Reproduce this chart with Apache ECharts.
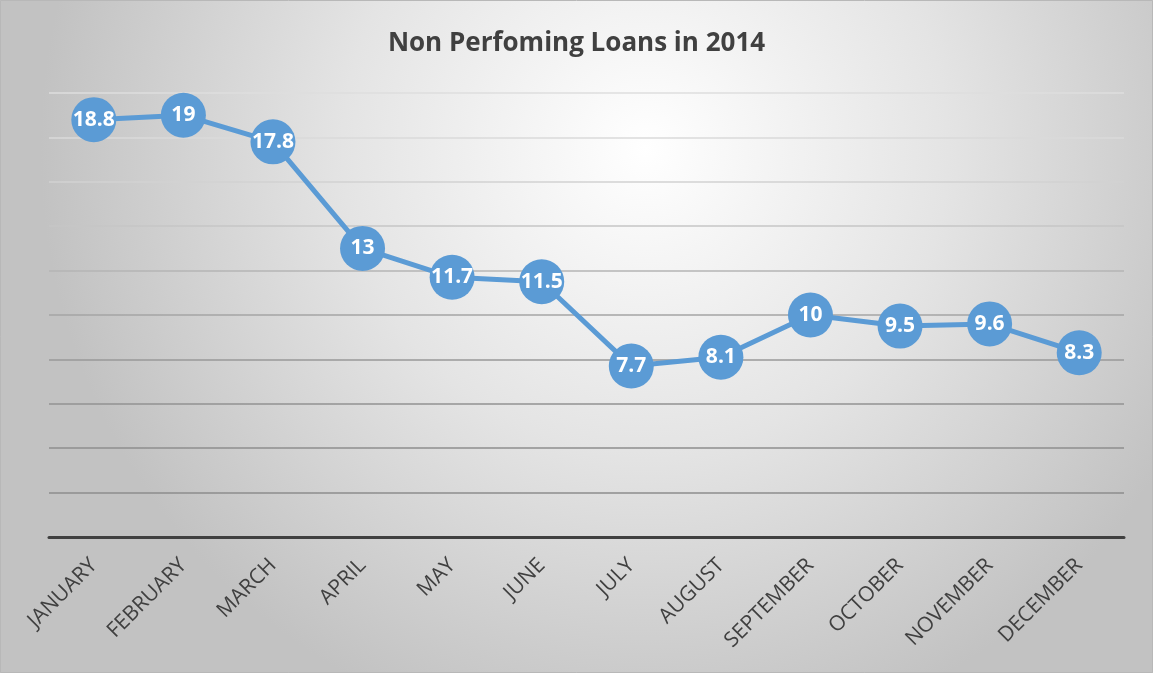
<!DOCTYPE html>
<html>
<head>
<meta charset="utf-8">
<style>
  html, body { margin: 0; padding: 0; background: #ffffff; }
  #chart { width: 1153px; height: 673px; }
</style>
<script src="https://cdn.jsdelivr.net/npm/echarts@6/dist/echarts.min.js"></script>
</head>
<body>
<div id="chart"></div>
<script>
// Monthly non-performing loan figures
const months = ['JANUARY', 'FEBRUARY', 'MARCH', 'APRIL', 'MAY', 'JUNE',
                'JULY', 'AUGUST', 'SEPTEMBER', 'OCTOBER', 'NOVEMBER', 'DECEMBER'];
const loans = [18.8, 19, 17.8, 13, 11.7, 11.5, 7.7, 8.1, 10, 9.5, 9.6, 8.3];
const chartTitle = 'Non Perfoming Loans in 2014';

// value axis scale (labels hidden, gridlines only)
const yMin = 0, yMax = 20, yStep = 2;
// gridline shades from the baseline upward
const gridShades = ['#8a8a8a', '#8c8c8c', '#8e8e8e', '#929292', '#999999',
                    '#a4a4a4', '#b4b4b4', '#c6c6c6', '#d2d2d2', '#dadada', '#dedede'];

const FONT = '"Open Sans", "Noto Sans", sans-serif';
const chart = echarts.init(document.getElementById('chart'));

chart.setOption({
  backgroundColor: {
    type: 'radial', x: 0.56, y: 0.22, r: 0.9,
    colorStops: [
      { offset: 0, color: '#ffffff' },
      { offset: 0.5, color: '#e4e4e4' },
      { offset: 1, color: '#c2c2c2' }
    ]
  },
  animation: false,
  title: {
    text: chartTitle,
    left: 'center',
    top: 26,
    textStyle: { fontFamily: FONT, fontSize: 26, fontWeight: 'bold', color: '#404040' }
  },
  graphic: [{
    type: 'rect',
    shape: { x: 0.5, y: 0.5, width: 1152, height: 672 },
    style: { fill: 'none', stroke: '#b8b8b8', lineWidth: 1 },
    silent: true
  }],
  grid: { left: 49, right: 29, top: 93, bottom: 136 },
  xAxis: {
    type: 'category',
    data: months,
    boundaryGap: true,
    axisLine: { show: true, lineStyle: { color: '#404040', width: 3 } },
    axisTick: { show: false },
    axisLabel: {
      rotate: 45,
      margin: 25,
      interval: 0,
      fontFamily: FONT,
      fontSize: 21,
      color: '#404040'
    },
    z: 3
  },
  yAxis: {
    type: 'value',
    min: yMin, max: yMax, interval: yStep,
    axisLine: { show: false },
    axisTick: { show: false },
    axisLabel: { show: false },
    splitLine: { show: true, lineStyle: { color: gridShades, width: 1.5 } }
  },
  series: [{
    type: 'line',
    data: loans,
    symbol: 'circle',
    symbolSize: 45,
    lineStyle: { color: '#5b9bd5', width: 5 },
    itemStyle: { color: '#5b9bd5' },
    label: {
      show: true,
      position: 'inside',
      fontFamily: FONT,
      fontSize: 21,
      fontWeight: 'bold',
      color: '#ffffff'
    },
    z: 5
  }]
});
</script>
</body>
</html>
